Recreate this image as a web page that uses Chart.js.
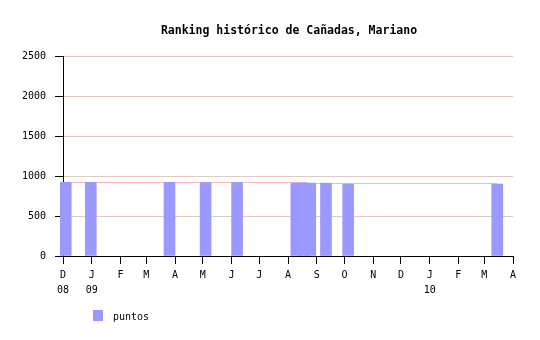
<!DOCTYPE html>
<html>
<head>
<meta charset="utf-8">
<script src="https://cdn.jsdelivr.net/npm/chart.js@4/dist/chart.umd.min.js"></script>
<style>
  body { margin: 0; background: #fff; }
  canvas { display: block; }
</style>
</head>
<body>
<canvas id="chart" width="540" height="340"></canvas>
<script>
// Days counted from 1 Dec 2008
const monthStarts = [0, 31, 62, 90, 121, 151, 182, 212, 243, 274, 304, 335, 365, 396, 427, 455, 486];
const monthLabels = ['D', 'J', 'F', 'M', 'A', 'M', 'J', 'J', 'A', 'S', 'O', 'N', 'D', 'J', 'F', 'M', 'A'];
const yearLabels = ['08', '09', '', '', '', '', '', '', '', '', '', '', '', '10', '', '', ''];

// puntos (bars)
const barDays = [3, 30, 115, 154, 188, 252, 260, 267, 284, 308, 469];
const barValues = [920, 920, 920, 918, 918, 910, 910, 910, 910, 898, 898];

// pink reference line
const lineDays = [0, 263, 264, 469];
const lineValues = [918, 918, 906, 906];

const titleText = 'Ranking histórico de Cañadas, Mariano';
const seriesName = 'puntos';

const mono = '"DejaVu Sans Mono", "Liberation Mono", monospace';

const titlePlugin = {
    id: 'titleAndLegend',
    afterDraw(chart) {
        const ctx = chart.ctx;
        ctx.save();
        ctx.fillStyle = '#000';
        ctx.font = 'bold 11.5px ' + mono;
        ctx.textAlign = 'center';
        ctx.textBaseline = 'middle';
        ctx.fillText(titleText, 289, 31);

        // legend
        ctx.fillStyle = '#9999ff';
        ctx.fillRect(93, 310, 10, 11);
        ctx.fillStyle = '#000';
        ctx.font = '10px ' + mono;
        ctx.textAlign = 'left';
        ctx.fillText(seriesName, 113, 317);
        ctx.restore();
    }
};

new Chart(document.getElementById('chart'), {
    type: 'bar',
    data: {
        datasets: [{
            label: seriesName,
            data: barDays.map((d, i) => ({ x: d, y: barValues[i] })),
            backgroundColor: '#9999ff',
            borderWidth: 0,
            barThickness: 11,
            clip: false,
            order: 1
        }, {
            type: 'line',
            label: 'ref',
            data: lineDays.map((d, i) => ({ x: d, y: lineValues[i] })),
            borderColor: '#ffb4b4',
            borderWidth: 1,
            pointRadius: 0,
            fill: false,
            order: 2
        }]
    },
    options: {
        responsive: false,
        animation: false,
        devicePixelRatio: 1,
        layout: { padding: { top: 56, right: 27, bottom: 0, left: 0 } },
        plugins: {
            legend: { display: false },
            title: { display: false },
            tooltip: { enabled: false }
        },
        scales: {
            x: {
                type: 'linear',
                min: 0,
                max: 486,
                offset: false,
                afterBuildTicks(scale) {
                    scale.ticks = monthStarts.map(v => ({ value: v }));
                },
                afterFit(scale) { scale.height = 84; },
                grid: {
                    offset: false,
                    drawOnChartArea: false,
                    drawTicks: true,
                    tickLength: 8,
                    tickColor: '#000'
                },
                border: { color: '#000', width: 1 },
                ticks: {
                    autoSkip: false,
                    maxRotation: 0,
                    padding: 4,
                    color: '#000',
                    font: { family: mono, size: 10, lineHeight: 1.5 },
                    callback(value) {
                        const i = monthStarts.indexOf(value);
                        if (i < 0) return '';
                        return yearLabels[i] ? [monthLabels[i], yearLabels[i]] : monthLabels[i];
                    }
                }
            },
            y: {
                min: 0,
                max: 2500,
                afterFit(scale) { scale.width = 63; },
                grid: {
                    color: '#dfcbc2',
                    tickColor: '#000',
                    tickLength: 8
                },
                border: { color: '#000', width: 1 },
                ticks: {
                    stepSize: 500,
                    padding: 9,
                    color: '#000',
                    font: { family: mono, size: 10 },
                    callback: value => String(value)
                }
            }
        }
    },
    plugins: [titlePlugin]
});
</script>
</body>
</html>
